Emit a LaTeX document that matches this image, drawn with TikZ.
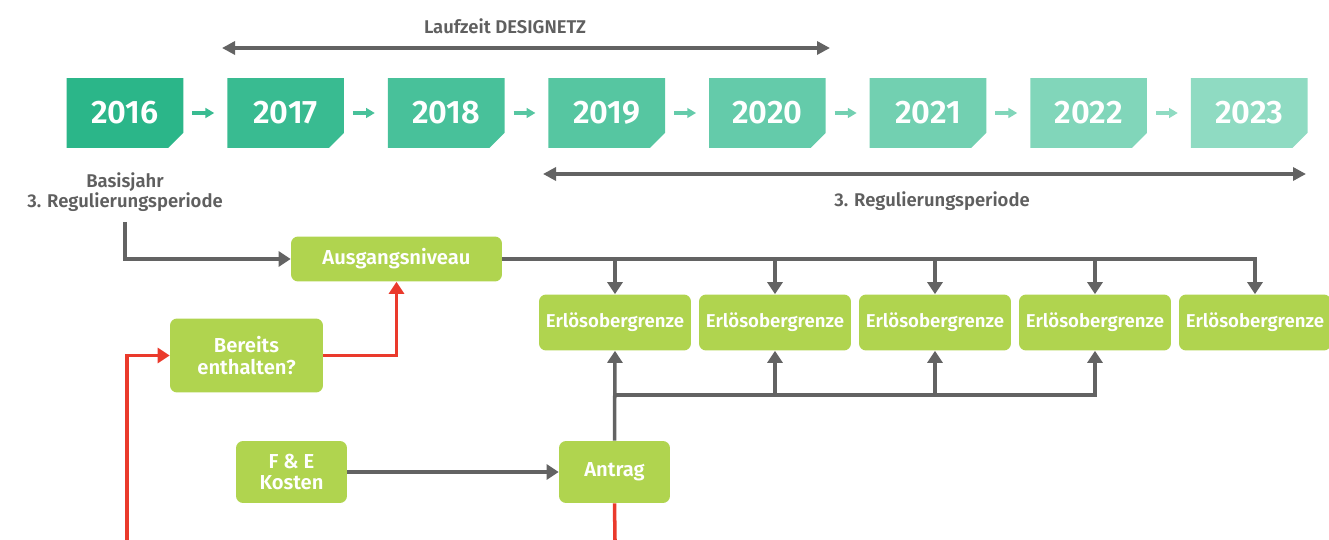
\documentclass[tikz,border=0pt]{standalone}
\usepackage{fontspec}
\setmainfont{Fira Sans}[BoldFont={Fira Sans SemiBold}]
\usetikzlibrary{arrows.meta, positioning, calc, backgrounds}

\definecolor{yrfirst}{RGB}{43,182,137}
\definecolor{yrlast}{RGB}{143,219,194}
\definecolor{lime}{RGB}{176,212,79}
\definecolor{flowgray}{RGB}{99,99,99}
\definecolor{flowred}{RGB}{234,58,44}
\definecolor{labelgray}{RGB}{95,95,95}

\begin{document}
\begin{tikzpicture}[x=0.02cm, y=-0.02cm,
  year/.style={text=white, font=\bfseries\fontsize{18.5}{20}\selectfont,
    minimum width=2.32cm, minimum height=1.38cm, inner sep=0pt},
  stepbox/.style={fill=lime, rounded corners=4pt, text=white, align=center,
    font=\bfseries\fontsize{11.5}{12.5}\selectfont, inner sep=0pt},
  note/.style={text=labelgray, align=center, inner sep=0pt,
    font=\bfseries\fontsize{10.5}{11.5}\selectfont},
  flow/.style={draw=flowgray, line width=2pt,
    -{Triangle[length=6.8pt,width=8.5pt]}},
  redflow/.style={flow, draw=flowred},
  span/.style={draw=flowgray, line width=2pt,
    {Triangle[length=7.4pt,width=7.4pt]}-{Triangle[length=7.4pt,width=7.4pt]}},
]
\useasboundingbox (0,0) rectangle (1329,540);

% years with cut corner
\foreach \yr [count=\i from 0] in {2016,...,2023} {
  \pgfmathtruncatemacro\p{round(100*\i/7)}
  \colorlet{yc}{yrlast!\p!yrfirst}
  \node[year] (y\yr) at (125+160.6*\i,113) {\yr};
  \begin{scope}[on background layer]
    \fill[yc] (y\yr.north west) -- (y\yr.north east)
      -- ([yshift=0.3cm]y\yr.south east) -- ([xshift=-0.3cm]y\yr.south east)
      -- (y\yr.south west) -- cycle;
  \end{scope}
  \ifnum\i>0
    \pgfmathtruncatemacro\prev{\yr-1}
    \draw[yc, line width=2.2pt, -{Triangle[length=5pt,width=5.5pt]}]
      ([xshift=0.18cm]y\prev.east) -- ([xshift=-0.26cm]y\yr.west);
  \fi
}

% time spans
\coordinate (laufL) at (222,48);
\coordinate (laufR) at (830,48);
\draw[span] (laufL) -- (laufR);
\node[note] (laufzeit) at (505,26) {Laufzeit DESIGNETZ};

\coordinate (regL) at (543,174);
\coordinate (regR) at (1306,174);
\draw[span] (regL) -- (regR);
\node[note] (regper) at (932,201) {3. Regulierungsperiode};

\node[note] (basis) at (125,192) {Basisjahr\\3. Regulierungsperiode};

% boxes
\node[stepbox, minimum width=4.22cm, minimum height=0.9cm] (ausgang) at (396.5,259) {Ausgangsniveau};
\foreach \i in {1,...,5}
  \node[stepbox, font=\bfseries\fontsize{10.6}{12}\selectfont,
    minimum width=3.04cm, minimum height=1.12cm] (eog\i) at (615+160*\i-160,322.5) {Erlösobergrenze};
\node[stepbox, minimum width=3.06cm, minimum height=1.48cm] (bereits) at (246.5,355.5) {Bereits\\enthalten?};
\node[stepbox, minimum width=2.22cm, minimum height=1.24cm] (fue) at (291.5,472) {F \& E\\Kosten};
\node[stepbox, minimum width=2.22cm, minimum height=1.24cm] (antrag) at (614.5,472) {Antrag};

% connectors
\coordinate (basisfoot) at (125,222);
\draw[flow] (basisfoot) |- (ausgang.west);
\draw[flow] (ausgang.east) -| (eog5.north);
\foreach \i in {1,...,4}
  \draw[flow] (eog\i.north |- ausgang.east) -- (eog\i.north);

\coordinate (bus) at (615,395);
\draw[flow] (antrag.north) -- (eog1.south);
\foreach \i in {2,...,4}
  \draw[flow] (bus) -| (eog\i.south);

\draw[flow] (fue.east) -- (antrag.west);

\coordinate (redin) at (127,540);
\coordinate (redout) at (615,540);
\draw[redflow] (redin) |- (bereits.west);
\draw[redflow] (bereits.east) -| (ausgang.south);
\draw[draw=flowred, line width=2pt] (antrag.south) -- (redout);
\end{tikzpicture}
\end{document}
